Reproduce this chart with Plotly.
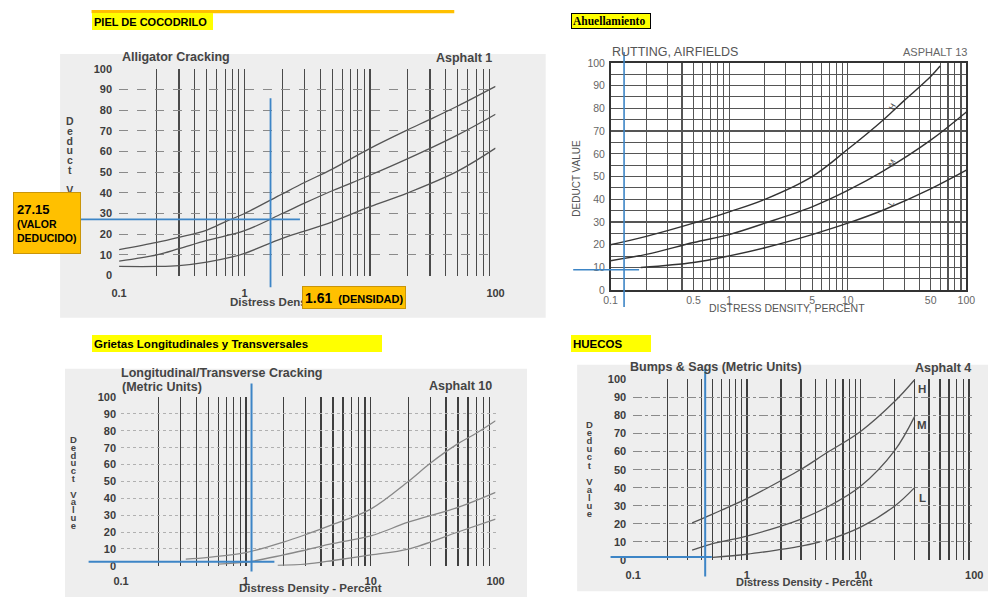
import math
import plotly.graph_objects as go

W, H = 998, 608

# ---------------- data ----------------
# 1. Alligator Cracking - Asphalt 1
ac_h_x = [0.1, 0.2, 0.3, 0.5, 0.7, 1, 2, 3, 5, 10, 20, 30, 50, 100]
ac_h_y = [12.5, 16, 18.5, 22, 26, 30, 39.5, 45, 51.5, 61.5, 70.5, 75.5, 82, 91.5]
ac_m_x = [0.1, 0.2, 0.3, 0.5, 1, 2, 3, 5, 10, 20, 50, 100]
ac_m_y = [7, 10, 13, 17, 21.7, 30, 35, 41, 48.5, 56.5, 68, 78]
ac_l_x = [0.1, 0.2, 0.3, 0.5, 0.8, 1, 2, 3, 5, 10, 20, 50, 100]
ac_l_y = [4.4, 4.4, 4.8, 6.5, 9, 10.7, 18, 21.5, 26, 33.3, 40, 50.5, 61.6]
ac_read_density = 1.61
ac_read_deduct = 27.15
ac_label_x = [128, 128, 128]
ac_label_y = [93.8, 77.7, 62]

# 2. Rutting, Airfields - Asphalt 13
rut_h_x = [0.1, 0.2, 0.5, 1, 2, 5, 10, 20, 30, 50, 60]
rut_h_y = [20, 23.7, 29.5, 34.5, 40, 50, 62, 75, 83.5, 94, 98.6]
rut_m_x = [0.1, 0.2, 0.5, 1, 2, 5, 10, 20, 50, 100]
rut_m_y = [13, 15.8, 21, 24.5, 29.5, 36.7, 43.9, 52.5, 66, 78.4]
rut_l_x = [0.18, 0.5, 1, 2, 5, 10, 20, 50, 100]
rut_l_y = [10, 12.2, 15.1, 18.7, 24.5, 29.5, 35.3, 44.6, 52.8]
rut_read_density = 0.13
rut_read_deduct = 9
rut_label_x = [24, 24, 23.3]
rut_label_y = [80.6, 56, 38.1]

# 3. Longitudinal/Transverse Cracking - Asphalt 10
lt_h_x = [0.33, 0.5, 1, 2, 3, 5, 10, 20, 30, 50, 70, 100]
lt_h_y = [3.9, 5, 7.8, 14, 18.4, 24.5, 33.6, 50, 60.8, 72.4, 78.6, 86]
lt_m_x = [0.6, 1, 2, 3, 5, 10, 20, 50, 100]
lt_m_y = [1, 2.1, 6.4, 9.3, 13.2, 17.7, 25.8, 34.6, 43.5]
lt_l_x = [1.8, 3, 5, 10, 20, 50, 100]
lt_l_y = [0.2, 1, 3.1, 6.4, 9.9, 20, 27.6]
lt_read_density = 1.11
lt_read_deduct = 2.3
lt_label_x = [122, 117, 122]
lt_label_y = [87.5, 43, 27.3]

# 4. Bumps & Sags - Asphalt 4
bs_h_x = [0.33, 0.5, 1, 2, 3, 5, 10, 20, 30]
bs_h_y = [20.5, 25.4, 33.9, 44, 50.2, 59.2, 71.2, 87.9, 100]
bs_m_x = [0.33, 0.5, 1, 2, 3, 5, 10, 20, 30]
bs_m_y = [5.4, 9, 13.2, 18.7, 22.6, 29, 40.8, 60.7, 79.7]
bs_l_x = [0.5, 1, 2, 3, 4.4, None, 4.9, 10, 20, 30]
bs_l_y = [1.4, 3.1, 5.8, 7.6, 10, None, 10.4, 18.1, 29.9, 40.2]
bs_read_density = 0.43
bs_read_deduct = 1.6
bs_label_x = [35, 35, 35]
bs_label_y = [94.6, 74.8, 34.4]

severity = ["H", "M", "L"]

# axis ticks / grid
dens_ticks = [0.1, 1, 10, 100]
dens_tick_text = ["0.1", "1", "10", "100"]
rut_ticks = [0.1, 0.5, 1, 5, 10, 50, 100]
rut_tick_text = ["0.1", "0.5", "1", "5", "10", "50", "100"]
grid_density = [0.1, 0.2, 0.3, 0.4, 0.5, 0.6, 0.7, 0.8, 0.9,
                1, 2, 3, 4, 5, 6, 7, 8, 9,
                10, 20, 30, 40, 50, 60, 70, 80, 90, 100]
deduct_ticks = [0, 10, 20, 30, 40, 50, 60, 70, 80, 90, 100]
deduct_tick_text = ["0", "10", "20", "30", "40", "50", "60", "70", "80", "90", "100"]
rut_minor_deduct = [5, 15, 25, 35, 45, 55, 65, 75, 85, 95]

# ---------------- helpers ----------------
SCAN = "Liberation Sans, Arial, sans-serif"
LABEL = "Liberation Sans Narrow, Arial Narrow, Liberation Sans, sans-serif"
SERIF = "Liberation Serif, Times New Roman, serif"


def fx(x):
    return x / W


def fy(y):
    return 1 - y / H


def make_x(dom, anchor, ticks, texts, gcol, gw, font, standoff, frame=False):
    minor_vals = [v for v in grid_density if v not in ticks]
    return dict(type="log", range=[-1, 2], domain=[fx(dom[0]), fx(dom[1])], anchor=anchor,
                tickmode="array", tickvals=ticks, ticktext=texts, ticks="",
                showgrid=True, gridcolor=gcol, gridwidth=gw,
                minor=dict(tickmode="array", tickvals=minor_vals, showgrid=True,
                           gridcolor=gcol, gridwidth=gw, ticks=""),
                zeroline=False, showline=frame, mirror=frame, linecolor="#333", linewidth=1.5,
                tickfont=font, ticklabelstandoff=standoff, fixedrange=True)


def make_y(dom, anchor, gcol, gw, dash, font, standoff, minor_vals=None, frame=False):
    d = dict(range=[0, 100], domain=[fy(dom[1]), fy(dom[0])], anchor=anchor,
             tickmode="array", tickvals=deduct_ticks, ticktext=deduct_tick_text, ticks="",
             showgrid=True, gridcolor=gcol, gridwidth=gw, griddash=dash,
             zeroline=False, showline=frame, mirror=frame, linecolor="#333", linewidth=1.5,
             tickfont=font, ticklabelstandoff=standoff, fixedrange=True)
    if minor_vals:
        d["minor"] = dict(tickmode="array", tickvals=minor_vals, showgrid=True,
                          gridcolor=gcol, gridwidth=1, ticks="")
    return d


fig = go.Figure()


def curve(x, y, xa, ya, color, width=1.3):
    fig.add_trace(go.Scatter(x=x, y=y, mode="lines", xaxis=xa, yaxis=ya,
                             line=dict(color=color, width=width, shape="spline", smoothing=1.0),
                             hoverinfo="skip", showlegend=False))


curve(ac_h_x, ac_h_y, "x", "y", "#555")
curve(ac_m_x, ac_m_y, "x", "y", "#555")
curve(ac_l_x, ac_l_y, "x", "y", "#555")
curve(rut_h_x, rut_h_y, "x2", "y2", "#333", 1.4)
curve(rut_m_x, rut_m_y, "x2", "y2", "#333", 1.4)
curve(rut_l_x, rut_l_y, "x2", "y2", "#333", 1.4)
curve(lt_h_x, lt_h_y, "x3", "y3", "#888")
curve(lt_m_x, lt_m_y, "x3", "y3", "#888")
curve(lt_l_x, lt_l_y, "x3", "y3", "#888")
curve(bs_h_x, bs_h_y, "x4", "y4", "#555")
curve(bs_m_x, bs_m_y, "x4", "y4", "#555")
curve(bs_l_x, bs_l_y, "x4", "y4", "#555")

tick_bold = dict(family=SCAN, size=11, color="#3c3c3c", weight="bold")
tick_rut = dict(family=SCAN, size=10.5, color="#666")

fig.update_layout(
    xaxis=make_x((113, 496), "y", dens_ticks, dens_tick_text, "#4a4a4a", 1.2, tick_bold, 9),
    yaxis=make_y((64, 275), "x", "#8a8a8a", 1, "dash", tick_bold, 6),
    xaxis2=make_x((613, 975), "y2", rut_ticks, rut_tick_text, "#555", 1.1, tick_rut, 0, frame=True),
    yaxis2=make_y((58, 290), "x2", "#555", 1.2, "solid", tick_rut, 2, rut_minor_deduct, frame=True),
    xaxis3=make_x((115, 496), "y3", dens_ticks, dens_tick_text, "#3f3f3f", 1.3, tick_bold, 7),
    yaxis3=make_y((399, 571), "x3", "#b0b0b0", 1, "dot", tick_bold, 4),
    xaxis4=make_x((636, 983), "y4", dens_ticks, dens_tick_text, "#3f3f3f", 1.3, tick_bold, 7),
    yaxis4=make_y((381, 565), "x4", "#8a8a8a", 1, "dashdot", tick_bold, 6),
)

# ---------------- shapes ----------------
shapes = []
# scanned gray backgrounds
for (x0, y0, x1, y1) in [(53, 49, 547, 318), (58, 370, 528, 603), (579, 366, 997, 597)]:
    shapes.append(dict(type="rect", xref="paper", yref="paper", x0=fx(x0), x1=fx(x1),
                       y0=fy(y1), y1=fy(y0), fillcolor="#eeeeee", line=dict(width=0), layer="below"))
# orange rule above the first label
shapes.append(dict(type="rect", xref="paper", yref="paper", x0=fx(85), x1=fx(454),
                   y0=fy(7.5), y1=fy(4), fillcolor="#FFC000", line=dict(width=0), layer="above"))

BLUE = "#3d85c6"
reads = [
    ("x", "y", ac_read_density, ac_read_deduct, (94, 287), (73, 297), 1.8),
    ("x2", "y2", rut_read_density, rut_read_deduct, (47, 307), (575, 642), 1.6),
    ("x3", "y3", lt_read_density, lt_read_deduct, (385, 577), (82, 271), 2),
    ("x4", "y4", bs_read_density, bs_read_deduct, (370, 582), (613, 716), 2),
]
for xa, ya, xd, yd, vspan, hspan, w in reads:
    shapes.append(dict(type="line", xref=xa, yref="paper", x0=xd, x1=xd,
                       y0=fy(vspan[1]), y1=fy(vspan[0]), line=dict(color=BLUE, width=w), layer="above"))
    shapes.append(dict(type="line", xref="paper", yref=ya, x0=fx(hspan[0]), x1=fx(hspan[1]),
                       y0=yd, y1=yd, line=dict(color=BLUE, width=w), layer="above"))

# ---------------- annotations ----------------
ann = []


def txt(x, y, s, size, color="#444", family=SCAN, xanchor="left", yanchor="middle", angle=0):
    ann.append(dict(x=fx(x), y=fy(y), xref="paper", yref="paper", text=s, showarrow=False,
                    font=dict(size=size, color=color, family=family), xanchor=xanchor,
                    yanchor=yanchor, textangle=angle))


def stacked(x, y0, step, s, size, color="#444"):
    # one text block, one letter per line; line pitch set by the base font size
    lines = []
    for ch in s:
        if ch == " ":
            lines.append("&nbsp;")
        else:
            lines.append("<span style='font-size:%.1fpx'><b>%s</b></span>" % (size, ch))
    base = step / 1.3
    center = y0 + (len(s) - 1) * step / 2
    txt(x, center, "<br>".join(lines), base, color, xanchor="center")


def sev_labels(xa, ya, xs, ys, size, color, angle=0):
    for lab, xv, yv in zip(severity, xs, ys):
        ann.append(dict(x=math.log10(xv), y=yv, xref=xa, yref=ya, text=lab if angle else "<b>" + lab + "</b>",
                        showarrow=False, textangle=angle,
                        font=dict(size=size, color=color, family=SCAN)))


# chart 1
txt(114, 52, "<b>Alligator Cracking</b>", 12.5)
txt(494, 53, "<b>Asphalt 1</b>", 12.5, xanchor="right")
stacked(63, 118, 9.8, "Deduct Value", 10.5)
txt(224, 302, "<b>Distress Density - Percent</b>", 11.5)
sev_labels("x", "y", ac_label_x, ac_label_y, 12.5, "#444")

# chart 2
txt(612, 47, "RUTTING, AIRFIELDS", 12.5, "#555")
txt(978, 47, "ASPHALT 13", 11, "#666", xanchor="right")
txt(578, 176, "DEDUCT VALUE", 10, "#555", xanchor="center", angle=-90)
txt(792, 308, "DISTRESS DENSITY, PERCENT", 10.5, "#555", xanchor="center")
sev_labels("x2", "y2", rut_label_x, rut_label_y, 8, "#444", angle=-60)

# chart 3
txt(113, 374, "<b>Longitudinal/Transverse Cracking</b>", 12.5)
txt(114, 389, "<b>(Metric Units)</b>", 12.5)
txt(494, 388, "<b>Asphalt 10</b>", 12.5, xanchor="right")
stacked(67, 443, 7.8, "Deduct Value", 9.5)
txt(308, 594, "<b>Distress Density - Percent</b>", 11.5, xanchor="center")
sev_labels("x3", "y3", lt_label_x, lt_label_y, 11.5, "#444")

# chart 4
txt(631, 368, "<b>Bumps &amp; Sags (Metric Units)</b>", 12.5)
txt(982, 369, "<b>Asphalt 4</b>", 12.5, xanchor="right")
stacked(592, 428, 8.1, "Deduct Value", 9.5)
txt(810, 588, "<b>Distress Density - Percent</b>", 11, xanchor="center")
sev_labels("x4", "y4", bs_label_x, bs_label_y, 11.5, "#444")


def label_box(x0, y0, x1, y1, s, bg, size, family=LABEL, border=None, pad=2, valign="middle"):
    bw = 1 if border else 0
    ann.append(dict(x=fx(x0), y=fy(y0), xref="paper", yref="paper", xanchor="left", yanchor="top",
                    width=(x1 - x0) - 2 * pad - 2 * bw, height=(y1 - y0) - 2 * pad - 2 * bw,
                    align="left", valign=valign, text=s, showarrow=False, bgcolor=bg,
                    bordercolor=border if border else bg, borderwidth=bw, borderpad=pad,
                    font=dict(size=size, color="#000", family=family)))


YEL = "#FFFF00"
ORA = "#FFC000"
label_box(85, 7, 206, 24, "<b>PIEL DE COCODRILO</b>", YEL, 11)
label_box(573, 7, 653, 23, "<b>Ahuellamiento</b>", YEL, 11.5, family=SERIF, border="#000", pad=1)
label_box(85, 336, 375, 353, "<b>Grietas Longitudinales y Transversales</b>", YEL, 11.5)
label_box(573, 336, 653, 353, "<b>HUECOS</b>", YEL, 11.5)
label_box(5, 190, 73, 252,
          "<b><span style='font-size:13px'>27.15</span><br>(VALOR<br>DEDUCIDO)</b>",
          ORA, 10.5, border="#c9950a", pad=3)
label_box(299, 286, 403, 309,
          "<b><span style='font-size:14px'>1.61</span>  (DENSIDAD)</b>",
          ORA, 11, border="#c9950a", pad=2)

fig.update_layout(
    width=W, height=H, margin=dict(l=0, r=0, t=0, b=0),
    paper_bgcolor="white", plot_bgcolor="rgba(0,0,0,0)",
    showlegend=False, shapes=shapes, annotations=ann,
)

fig.write_html("out.html",
               config={"displayModeBar": False, "staticPlot": True},
               post_script="document.body.style.margin='0px';document.body.style.overflow='hidden';")
